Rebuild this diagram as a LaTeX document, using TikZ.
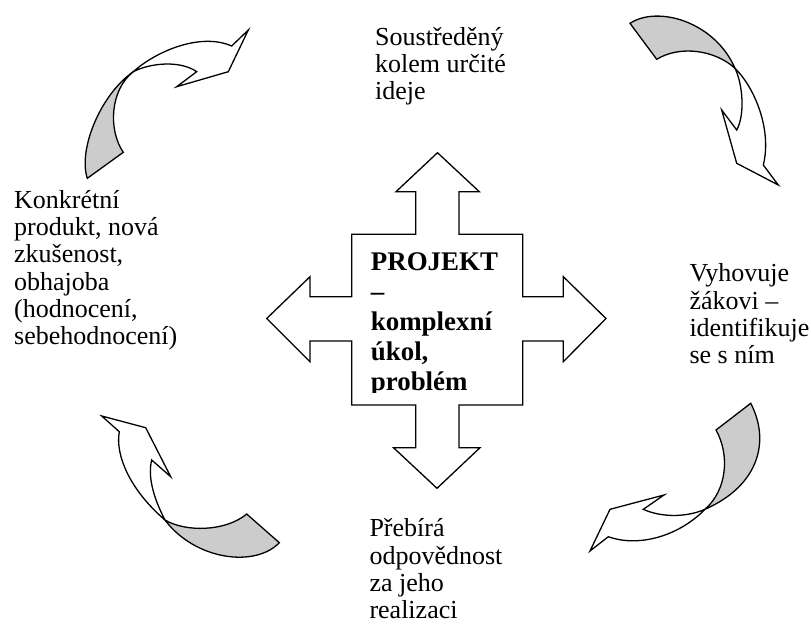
\documentclass[tikz,border=0pt]{standalone}
\usepackage{fontspec}
\setmainfont{Liberation Serif}
\begin{document}
\begin{tikzpicture}[x=1pt,y=-1pt,
  outl/.style={draw=black, line width=1.3pt, line join=miter},
  backside/.style={outl, fill=gray!40},
  frontside/.style={outl, fill=white},
  lbl/.style={anchor=base west, inner sep=0pt, font=\fontsize{26}{27.3}\selectfont},
  centerlbl/.style={anchor=base west, inner sep=0pt, font=\bfseries\fontsize{26.9}{30}\selectfont}]
\useasboundingbox (0,0) rectangle (811,630);

% central cross with four arrows
\draw[outl, fill=white] (437.5,152.7) -- (479.3,191.7) -- (459,191.7) -- (459,234.3)
  -- (522.7,234.3) -- (522.7,296.7) -- (563.3,296.7) -- (563.3,276.7) -- (606,318.5)
  -- (563.3,361.7) -- (563.3,341) -- (522.7,341) -- (522.7,405) -- (459,405)
  -- (459,447.7) -- (480,447.7) -- (437,488.3) -- (393.5,447.7) -- (415.7,447.7)
  -- (415.7,405) -- (351.7,405) -- (351.7,341) -- (310,341) -- (310,361.7)
  -- (266.7,318.5) -- (310,276.7) -- (310,296.7) -- (351.7,296.7) -- (351.7,234.3)
  -- (415.7,234.3) -- (415.7,191.7) -- (396,191.7) -- cycle;

\begin{scope}
  \clip (351.7,234.3) rectangle (522.7,392);
  \node[centerlbl] (proj) at (370.7,270) {\parbox[t]{150pt}{PROJEKT\\–\\komplexní\\úkol,\\problém}};
\end{scope}

% top-left curved arrow
\draw[backside] (87.3,178.3) .. controls (78,150) and (100,95) .. (133.3,71.7)
  .. controls (110,90) and (108,130) .. (123.3,152.3) -- cycle;
\draw[frontside] (133.3,71.7) .. controls (155,52) and (200,32) .. (231.7,46)
  -- (248.3,30) -- (228.3,71.7) -- (176.7,86.7) -- (196.7,71.7)
  .. controls (180,60) and (150,63) .. (133.3,71.7) -- cycle;

% top-right curved arrow
\draw[backside] (630,23.3) .. controls (658,5) and (715,22) .. (735,68.3)
  .. controls (715,50) and (680,45) .. (656.7,59.3) -- cycle;
\draw[frontside] (735,68.3) .. controls (755,88) and (772,130) .. (763.3,165)
  -- (778.3,185) -- (736.7,163.3) -- (721.7,110) -- (736.7,130)
  .. controls (745,115) and (743,85) .. (735,68.3) -- cycle;

% bottom-right curved arrow
\draw[backside] (750.7,403.3) .. controls (770,440) and (760,485) .. (705,509.3)
  .. controls (727,490) and (730,455) .. (716,430) -- cycle;
\draw[frontside] (705,509.3) .. controls (680,535) and (640,548) .. (608.3,536.7)
  -- (590,551) -- (610,509.3) -- (664,495) -- (643.3,509.3)
  .. controls (660,517) and (685,518) .. (705,509.3) -- cycle;

% bottom-left curved arrow
\draw[backside] (279.3,542.7) .. controls (255,568) and (195,560) .. (165,520)
  .. controls (185,532) and (225,532) .. (246.7,514) -- cycle;
\draw[frontside] (165,520) .. controls (130,490) and (115,455) .. (119.3,431.7)
  -- (101.7,416) -- (145.7,427.7) -- (170.7,476.7) -- (151.7,460)
  .. controls (148,475) and (152,495) .. (165,520) -- cycle;

% labels
\node[lbl] (top) at (375,45) {\parbox[t]{200pt}{Soustředěný\\kolem určité\\ideje}};
\node[lbl] (right) at (689.3,281.7) {\parbox[t]{150pt}{Vyhovuje\\žákovi –\\identifikuje\\se s ním}};
\node[lbl] (bottom) at (369.3,536.7) {\parbox[t]{200pt}{Přebírá\\odpovědnost\\za jeho\\realizaci}};
\node[lbl] (left) at (14,208.3) {\parbox[t]{250pt}{Konkrétní\\produkt, nová\\zkušenost,\\obhajoba\\(hodnocení,\\sebehodnocení)}};
\end{tikzpicture}
\end{document}
